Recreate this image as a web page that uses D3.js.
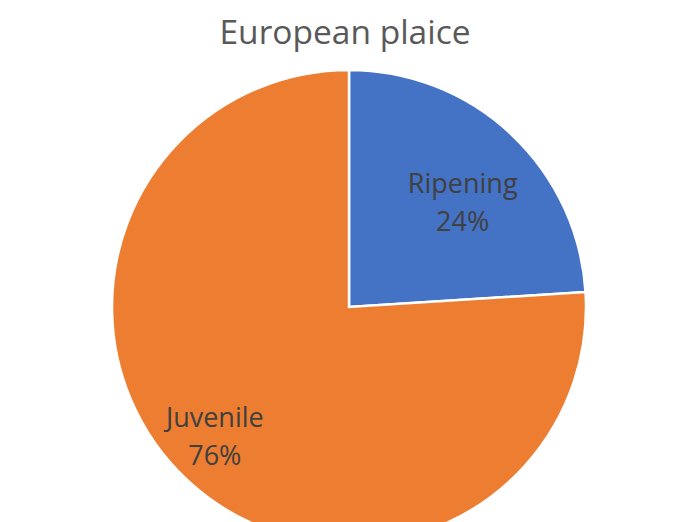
<!DOCTYPE html>
<html>
<head>
<meta charset="utf-8">
<script src="https://cdn.jsdelivr.net/npm/d3@7"></script>
<style>
  html, body { margin: 0; padding: 0; background: #fff; overflow: hidden; }
  svg { display: block; }
</style>
</head>
<body>
<svg id="chart" width="680" height="522"></svg>
<script>
// Share of European plaice by maturity stage
const categories = ["Ripening", "Juvenile"];
const values = [24, 76];
const colors = ["#4472C4", "#ED7D31"];
const title = "European plaice";

const svg = d3.select("#chart");
const cx = 349, cy = 307, radius = 237;

svg.append("text")
  .attr("x", 345)
  .attr("y", 44)
  .attr("text-anchor", "middle")
  .attr("font-family", "'Open Sans', sans-serif")
  .attr("font-size", 33.5)
  .attr("fill", "#595959")
  .text(title);

const data = categories.map((c, i) => ({ name: c, value: values[i], color: colors[i] }));

const pie = d3.pie().sort(null).value(d => d.value);
const arc = d3.arc().innerRadius(0).outerRadius(radius);

const g = svg.append("g").attr("transform", `translate(${cx},${cy})`);
const arcs = pie(data);

g.selectAll("path")
  .data(arcs)
  .join("path")
  .attr("d", arc)
  .attr("fill", d => d.data.color)
  .attr("stroke", "#fff")
  .attr("stroke-width", 2.5);

// inside labels: placed along each slice's bisector, nudged for a best fit
const labelRadius = [148, 193];
const labelTurn = [0.122, 0.015];
function labelPos(d, i) {
  const a = (d.startAngle + d.endAngle) / 2 + labelTurn[i];
  const r = labelRadius[i];
  return [r * Math.sin(a), -r * Math.cos(a)];
}

const labels = g.selectAll("text.lbl")
  .data(arcs)
  .join("text")
  .attr("class", "lbl")
  .attr("text-anchor", "middle")
  .attr("font-family", "'Open Sans', sans-serif")
  .attr("font-size", 27)
  .attr("fill", "#404040")
  .attr("transform", (d, i) => {
    const [x, y] = labelPos(d, i);
    return `translate(${x},${y})`;
  });

labels.append("tspan").attr("x", 0).attr("y", -19).text(d => d.data.name);
labels.append("tspan").attr("x", 0).attr("y", 19).text(d => d.data.value + "%");
</script>
</body>
</html>
